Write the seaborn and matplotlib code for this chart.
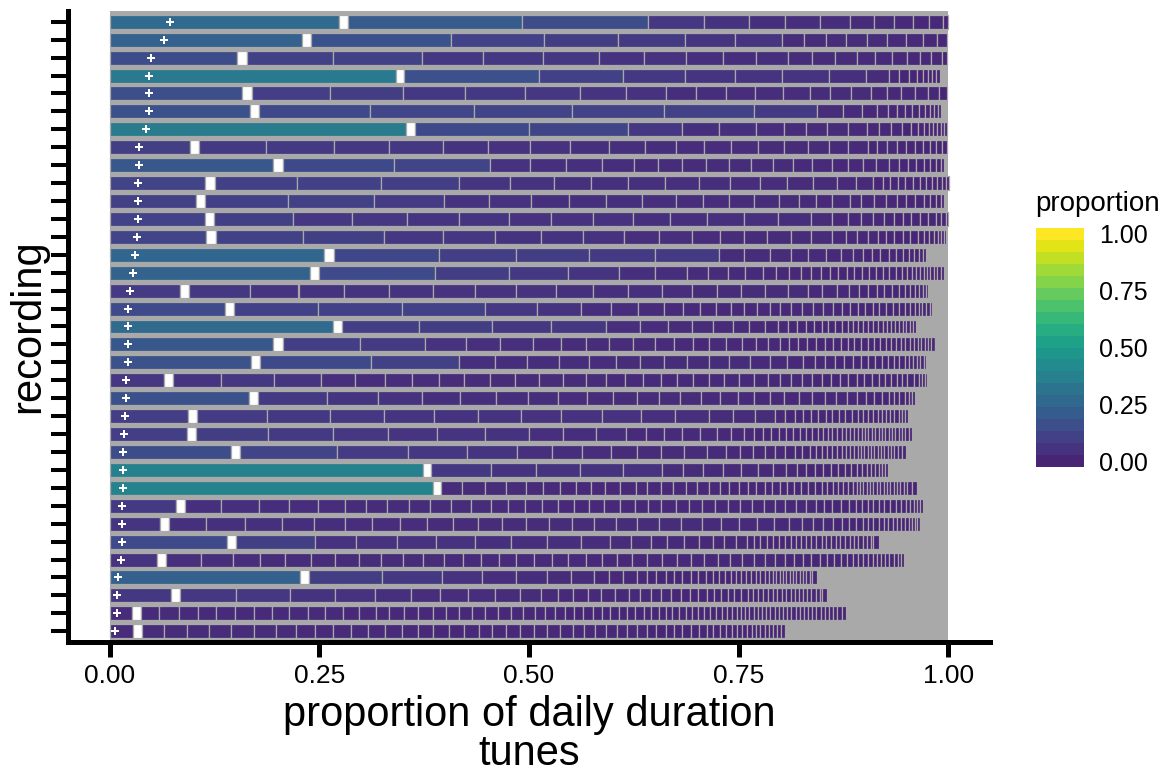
import numpy as np
import pandas as pd
import seaborn as sns
import matplotlib
matplotlib.use("Agg")
import matplotlib.pyplot as plt
from matplotlib.colors import ListedColormap, BoundaryNorm, Normalize
from matplotlib.cm import ScalarMappable

# share of the daily duration taken by each tune, one list per recording,
# top tune first
rec01 = [0.273, 0.208, 0.150, 0.067, 0.053, 0.044, 0.041, 0.036, 0.029, 0.024, 0.022, 0.019, 0.017, 0.006]
rec02 = [0.229, 0.167, 0.111, 0.088, 0.080, 0.060, 0.056, 0.026, 0.026, 0.024, 0.025, 0.024, 0.023, 0.020, 0.017, 0.012]
rec03 = [0.152, 0.103, 0.106, 0.073, 0.072, 0.067, 0.053, 0.050, 0.045, 0.039, 0.038, 0.029, 0.027, 0.026, 0.022,
         0.020, 0.018, 0.016, 0.013, 0.013, 0.006]
rec04 = [0.341, 0.161, 0.100, 0.074, 0.060, 0.056, 0.056, 0.044, 0.028, 0.012, 0.011, 0.010, 0.007, 0.006, 0.005,
         0.005, 0.004]
rec05 = [0.158, 0.093, 0.088, 0.074, 0.071, 0.066, 0.055, 0.047, 0.036, 0.036, 0.035, 0.033, 0.032, 0.024, 0.025,
         0.024, 0.019, 0.017, 0.016, 0.016, 0.013, 0.010]
rec06 = [0.167, 0.132, 0.124, 0.117, 0.110, 0.107, 0.076, 0.031, 0.022, 0.018, 0.013, 0.011, 0.010, 0.008, 0.008,
         0.007, 0.006, 0.005, 0.005, 0.004]
rec07 = [0.353, 0.136, 0.118, 0.064, 0.045, 0.044, 0.033, 0.026, 0.026, 0.024, 0.023, 0.015, 0.014, 0.013, 0.011,
         0.008, 0.007, 0.006, 0.005, 0.005, 0.004, 0.004, 0.004]
rec08 = [0.095, 0.080, 0.081, 0.066, 0.064, 0.054, 0.050, 0.048, 0.046, 0.043, 0.037, 0.034, 0.032, 0.032, 0.031,
         0.029, 0.025, 0.023, 0.023, 0.011, 0.012, 0.012, 0.011, 0.010, 0.010, 0.008, 0.008, 0.007, 0.006]
rec09 = [0.195, 0.133, 0.115, 0.047, 0.043, 0.043, 0.038, 0.029, 0.029, 0.028, 0.028, 0.026, 0.026, 0.024, 0.023,
         0.023, 0.019, 0.018, 0.016, 0.015, 0.012, 0.011, 0.010, 0.009, 0.007, 0.007, 0.006, 0.004]
rec10 = [0.114, 0.098, 0.101, 0.093, 0.060, 0.053, 0.044, 0.044, 0.044, 0.041, 0.037, 0.035, 0.033, 0.031, 0.028,
         0.023, 0.021, 0.011, 0.009, 0.009, 0.009, 0.009, 0.008, 0.008, 0.007, 0.006, 0.006, 0.005, 0.003]
rec11 = [0.103, 0.098, 0.103, 0.084, 0.053, 0.050, 0.046, 0.044, 0.043, 0.040, 0.032, 0.032, 0.030, 0.029, 0.024,
         0.021, 0.019, 0.021, 0.013, 0.016, 0.014, 0.013, 0.011, 0.011, 0.010, 0.008, 0.007, 0.006, 0.003]
rec12 = [0.113, 0.095, 0.070, 0.066, 0.062, 0.059, 0.050, 0.050, 0.048, 0.044, 0.044, 0.044, 0.041, 0.039, 0.026,
         0.018, 0.016, 0.015, 0.013, 0.011, 0.011, 0.010, 0.010, 0.010, 0.009, 0.007, 0.006, 0.002]
rec13 = [0.115, 0.104, 0.097, 0.070, 0.063, 0.054, 0.051, 0.048, 0.042, 0.040, 0.033, 0.029, 0.027, 0.028, 0.024,
         0.026, 0.016, 0.013, 0.013, 0.012, 0.010, 0.010, 0.010, 0.009, 0.009, 0.007, 0.006, 0.006, 0.005, 0.004,
         0.003, 0.003]
rec14 = [0.256, 0.126, 0.091, 0.088, 0.078, 0.077, 0.030, 0.031, 0.024, 0.021, 0.021, 0.018, 0.014, 0.012, 0.011,
         0.010, 0.010, 0.009, 0.008, 0.007, 0.006, 0.006, 0.005, 0.004]
rec15 = [0.239, 0.138, 0.088, 0.071, 0.060, 0.043, 0.039, 0.024, 0.024, 0.021, 0.021, 0.016, 0.015, 0.014, 0.012,
         0.012, 0.011, 0.010, 0.010, 0.009, 0.009, 0.009, 0.008, 0.008, 0.008, 0.008, 0.007, 0.006, 0.006, 0.005,
         0.005, 0.004, 0.004, 0.004, 0.004, 0.004, 0.005, 0.003]
rec16 = [0.084, 0.073, 0.058, 0.054, 0.054, 0.053, 0.050, 0.048, 0.048, 0.044, 0.042, 0.041, 0.035, 0.030, 0.029,
         0.028, 0.028, 0.024, 0.017, 0.017, 0.015, 0.012, 0.011, 0.010, 0.009, 0.009, 0.008, 0.007, 0.006, 0.006,
         0.005, 0.005, 0.004, 0.002]
rec17 = [0.137, 0.100, 0.101, 0.098, 0.063, 0.052, 0.036, 0.032, 0.031, 0.023, 0.020, 0.019, 0.018, 0.016, 0.015,
         0.015, 0.013, 0.013, 0.013, 0.013, 0.012, 0.012, 0.010, 0.010, 0.009, 0.009, 0.009, 0.008, 0.008, 0.008,
         0.007, 0.007, 0.006, 0.006, 0.005, 0.004, 0.005, 0.004, 0.003]
rec18 = [0.266, 0.092, 0.087, 0.070, 0.066, 0.041, 0.033, 0.028, 0.026, 0.023, 0.020, 0.019, 0.015, 0.012, 0.011,
         0.010, 0.010, 0.009, 0.008, 0.008, 0.008, 0.007, 0.007, 0.006, 0.006, 0.006, 0.005, 0.006, 0.006, 0.005,
         0.005, 0.005, 0.005, 0.004, 0.004, 0.004, 0.004, 0.004]
rec19 = [0.195, 0.092, 0.078, 0.049, 0.040, 0.040, 0.033, 0.030, 0.028, 0.028, 0.026, 0.023, 0.023, 0.019, 0.020,
         0.019, 0.017, 0.014, 0.014, 0.011, 0.011, 0.011, 0.011, 0.010, 0.010, 0.009, 0.008, 0.008, 0.008, 0.008,
         0.008, 0.007, 0.007, 0.006, 0.006, 0.006, 0.005, 0.005, 0.005, 0.005, 0.004, 0.004, 0.004, 0.004, 0.004,
         0.002]
rec20 = [0.168, 0.133, 0.104, 0.043, 0.039, 0.038, 0.036, 0.032, 0.029, 0.028, 0.028, 0.026, 0.024, 0.025, 0.023,
         0.021, 0.019, 0.014, 0.012, 0.012, 0.011, 0.010, 0.010, 0.009, 0.008, 0.008, 0.007, 0.007, 0.007, 0.006,
         0.005, 0.005, 0.005, 0.004, 0.004, 0.003]
rec21 = [0.064, 0.058, 0.063, 0.056, 0.041, 0.035, 0.033, 0.032, 0.030, 0.031, 0.029, 0.029, 0.029, 0.027, 0.024,
         0.023, 0.021, 0.021, 0.019, 0.020, 0.019, 0.018, 0.018, 0.017, 0.017, 0.015, 0.013, 0.013, 0.012, 0.011,
         0.011, 0.011, 0.010, 0.010, 0.009, 0.009, 0.008, 0.008, 0.007, 0.007, 0.006, 0.006, 0.008, 0.006, 0.004,
         0.004, 0.002]
rec22 = [0.166, 0.082, 0.061, 0.052, 0.046, 0.043, 0.038, 0.036, 0.034, 0.031, 0.029, 0.026, 0.025, 0.025, 0.023,
         0.021, 0.020, 0.018, 0.017, 0.018, 0.016, 0.015, 0.013, 0.013, 0.012, 0.011, 0.010, 0.009, 0.008, 0.007,
         0.006, 0.006, 0.005, 0.004, 0.003]
rec23 = [0.093, 0.084, 0.074, 0.065, 0.060, 0.052, 0.051, 0.048, 0.049, 0.047, 0.040, 0.041, 0.028, 0.027, 0.024,
         0.012, 0.011, 0.010, 0.009, 0.009, 0.009, 0.008, 0.008, 0.007, 0.008, 0.007, 0.006, 0.006, 0.006, 0.006,
         0.005, 0.005, 0.005, 0.005, 0.005, 0.004, 0.004, 0.003]
rec24 = [0.092, 0.086, 0.077, 0.066, 0.058, 0.057, 0.053, 0.041, 0.039, 0.036, 0.023, 0.022, 0.022, 0.021, 0.020,
         0.017, 0.015, 0.012, 0.011, 0.010, 0.009, 0.009, 0.008, 0.008, 0.008, 0.007, 0.007, 0.006, 0.006, 0.005,
         0.006, 0.005, 0.005, 0.005, 0.005, 0.005, 0.004, 0.004, 0.004, 0.004, 0.004, 0.004, 0.004, 0.004, 0.004,
         0.004, 0.004, 0.004, 0.004, 0.004, 0.004, 0.004]
rec25 = [0.145, 0.116, 0.085, 0.070, 0.060, 0.041, 0.036, 0.035, 0.031, 0.028, 0.028, 0.027, 0.023, 0.017, 0.015,
         0.014, 0.013, 0.012, 0.011, 0.009, 0.009, 0.008, 0.007, 0.006, 0.006, 0.006, 0.005, 0.005, 0.005, 0.005,
         0.004, 0.004, 0.004, 0.004, 0.004, 0.004, 0.004, 0.004, 0.004, 0.004, 0.004, 0.004, 0.004, 0.005, 0.005]
rec26 = [0.373, 0.072, 0.053, 0.053, 0.051, 0.047, 0.025, 0.024, 0.023, 0.022, 0.020, 0.018, 0.016, 0.013, 0.011,
         0.010, 0.010, 0.009, 0.009, 0.008, 0.007, 0.007, 0.006, 0.006, 0.005, 0.005, 0.004, 0.004, 0.004, 0.003]
rec27 = [0.385, 0.025, 0.028, 0.024, 0.024, 0.021, 0.020, 0.019, 0.018, 0.017, 0.018, 0.019, 0.013, 0.016, 0.015,
         0.015, 0.014, 0.014, 0.013, 0.011, 0.011, 0.011, 0.010, 0.010, 0.009, 0.009, 0.009, 0.008, 0.009, 0.008,
         0.008, 0.008, 0.007, 0.007, 0.006, 0.006, 0.005, 0.006, 0.005, 0.004, 0.004, 0.004, 0.004, 0.004, 0.004,
         0.004, 0.004, 0.004, 0.004, 0.004, 0.004, 0.004, 0.004, 0.004, 0.006, 0.006]
rec28 = [0.079, 0.044, 0.045, 0.036, 0.034, 0.032, 0.026, 0.025, 0.026, 0.025, 0.025, 0.024, 0.024, 0.020, 0.020,
         0.020, 0.020, 0.019, 0.018, 0.018, 0.018, 0.018, 0.016, 0.016, 0.017, 0.016, 0.015, 0.016, 0.016, 0.014,
         0.014, 0.014, 0.013, 0.013, 0.012, 0.012, 0.012, 0.010, 0.010, 0.010, 0.010, 0.008, 0.007, 0.007, 0.007,
         0.007, 0.006, 0.007, 0.007, 0.006, 0.006, 0.005, 0.004, 0.004, 0.004, 0.003]
rec29 = [0.060, 0.045, 0.046, 0.044, 0.039, 0.036, 0.033, 0.033, 0.032, 0.031, 0.030, 0.029, 0.029, 0.027, 0.027,
         0.026, 0.027, 0.025, 0.026, 0.026, 0.025, 0.023, 0.022, 0.021, 0.020, 0.018, 0.016, 0.013, 0.012, 0.012,
         0.010, 0.009, 0.008, 0.008, 0.007, 0.006, 0.006, 0.006, 0.005, 0.006, 0.005, 0.005, 0.005, 0.004, 0.004,
         0.003, 0.003, 0.003, 0.002]
rec30 = [0.140, 0.095, 0.049, 0.048, 0.047, 0.047, 0.043, 0.042, 0.041, 0.035, 0.025, 0.024, 0.019, 0.020, 0.018,
         0.016, 0.014, 0.014, 0.013, 0.008, 0.008, 0.008, 0.007, 0.007, 0.007, 0.007, 0.007, 0.006, 0.006, 0.006,
         0.006, 0.006, 0.005, 0.006, 0.006, 0.005, 0.006, 0.006, 0.005, 0.005, 0.005, 0.005, 0.005, 0.003, 0.006]
rec31 = [0.056, 0.042, 0.038, 0.032, 0.030, 0.031, 0.029, 0.028, 0.027, 0.026, 0.024, 0.024, 0.023, 0.022, 0.021,
         0.021, 0.021, 0.021, 0.020, 0.021, 0.019, 0.018, 0.018, 0.018, 0.018, 0.017, 0.017, 0.016, 0.016, 0.015,
         0.014, 0.014, 0.013, 0.012, 0.012, 0.011, 0.011, 0.010, 0.010, 0.009, 0.008, 0.008, 0.007, 0.007, 0.006,
         0.006, 0.006, 0.006, 0.005, 0.005, 0.005, 0.005, 0.005, 0.005, 0.004, 0.003]
rec32 = [0.227, 0.087, 0.071, 0.048, 0.041, 0.036, 0.029, 0.028, 0.018, 0.016, 0.017, 0.012, 0.011, 0.011, 0.010,
         0.010, 0.010, 0.009, 0.009, 0.008, 0.008, 0.007, 0.007, 0.006, 0.006, 0.006, 0.006, 0.006, 0.005, 0.005,
         0.005, 0.005, 0.004, 0.004, 0.004, 0.004, 0.004, 0.004, 0.004, 0.004, 0.004, 0.004, 0.004, 0.003, 0.006]
rec33 = [0.073, 0.067, 0.064, 0.053, 0.048, 0.043, 0.035, 0.033, 0.033, 0.029, 0.025, 0.021, 0.018, 0.017, 0.016,
         0.017, 0.016, 0.014, 0.013, 0.012, 0.012, 0.011, 0.011, 0.010, 0.010, 0.009, 0.008, 0.008, 0.008, 0.008,
         0.008, 0.006, 0.006, 0.006, 0.006, 0.006, 0.005, 0.006, 0.005, 0.005, 0.005, 0.005, 0.005, 0.005, 0.005,
         0.005, 0.005, 0.003, 0.006]
rec34 = [0.026, 0.021, 0.024, 0.023, 0.022, 0.022, 0.023, 0.021, 0.021, 0.022, 0.021, 0.021, 0.019, 0.020, 0.016,
         0.018, 0.017, 0.017, 0.016, 0.016, 0.015, 0.016, 0.015, 0.015, 0.015, 0.014, 0.012, 0.012, 0.012, 0.011,
         0.011, 0.011, 0.011, 0.010, 0.010, 0.010, 0.010, 0.010, 0.009, 0.009, 0.008, 0.008, 0.008, 0.008, 0.008,
         0.007, 0.007, 0.007, 0.007, 0.007, 0.006, 0.006, 0.006, 0.005, 0.005, 0.005, 0.005, 0.005, 0.005, 0.005,
         0.005, 0.005, 0.005, 0.005, 0.005, 0.005, 0.005, 0.005, 0.005, 0.005, 0.005, 0.005, 0.005, 0.005, 0.005,
         0.005, 0.005, 0.005, 0.005]
rec35 = [0.027, 0.026, 0.028, 0.026, 0.027, 0.027, 0.026, 0.024, 0.023, 0.021, 0.022, 0.020, 0.020, 0.020, 0.020,
         0.018, 0.018, 0.018, 0.018, 0.016, 0.017, 0.016, 0.017, 0.016, 0.015, 0.015, 0.014, 0.013, 0.013, 0.013,
         0.012, 0.012, 0.012, 0.011, 0.011, 0.010, 0.010, 0.010, 0.010, 0.009, 0.008, 0.008, 0.007, 0.007, 0.006,
         0.006, 0.006, 0.006, 0.005, 0.005, 0.005, 0.005, 0.005, 0.005, 0.005, 0.004]

recordings = [rec01, rec02, rec03, rec04, rec05, rec06, rec07, rec08, rec09, rec10, rec11, rec12,
              rec13, rec14, rec15, rec16, rec17, rec18, rec19, rec20, rec21, rec22, rec23, rec24,
              rec25, rec26, rec27, rec28, rec29, rec30, rec31, rec32, rec33, rec34, rec35]

# white block drawn right after the top tune of each recording
gap_share = [0.011, 0.011, 0.011, 0.010, 0.011, 0.011, 0.011, 0.011, 0.011, 0.011, 0.011, 0.011,
             0.011, 0.011, 0.011, 0.010, 0.011, 0.011, 0.011, 0.011, 0.011, 0.011, 0.011, 0.011,
             0.010, 0.010, 0.010, 0.010, 0.010, 0.010, 0.011, 0.011, 0.011, 0.011, 0.011]

# white "+" marker on each row
mark_pos = [0.072, 0.064, 0.049, 0.047, 0.047, 0.047, 0.043, 0.035, 0.035, 0.034, 0.034, 0.034,
            0.032, 0.030, 0.027, 0.024, 0.022, 0.021, 0.021, 0.021, 0.019, 0.019, 0.018, 0.017,
            0.016, 0.016, 0.016, 0.015, 0.014, 0.014, 0.013, 0.010, 0.009, 0.008, 0.006]

tick_vals = [0.0, 0.25, 0.5, 0.75, 1.0]
tick_text = ["0.00", "0.25", "0.50", "0.75", "1.00"]

# build one long table of stacked segments
rows = []
for i, shares in enumerate(recordings, start=1):
    seq = [(shares[0], "tune"), (gap_share[i - 1], "gap")] + [(s, "tune") for s in shares[1:]]
    left = 0.0
    for s, kind in seq:
        rows.append({"recording": i, "share": s, "kind": kind, "left": left})
        left += s
seg = pd.DataFrame(rows)
marks = pd.DataFrame({"recording": np.arange(1, len(mark_pos) + 1), "pos": mark_pos})

sns.set_theme(style="white")
plt.rcParams["font.family"] = ["Liberation Sans", "DejaVu Sans"]
plt.rcParams["text.color"] = "black"
plt.rcParams["axes.labelcolor"] = "black"
plt.rcParams["xtick.color"] = "black"
plt.rcParams["ytick.color"] = "black"

# viridis with the darkest tail dropped, the way the reference colours look
base = plt.get_cmap("viridis")
fill_cmap = ListedColormap(base(np.linspace(0.1, 1.0, 256)))
fill_norm = Normalize(0, 1)

fig = plt.figure(figsize=(11.65, 7.77), dpi=100)
W, H = 1165, 777
ax = fig.add_axes([68 / W, 1 - 642 / H, (990 - 68) / W, (642 - 11) / H])

ax.axvspan(0, 1, color="#a9a9a9", lw=0, zorder=0)

colors = [fill_cmap(fill_norm(s)) if k == "tune" else "white" for s, k in zip(seg["share"], seg["kind"])]
ax.barh(seg["recording"], seg["share"], left=seg["left"], height=0.78, color=colors,
        edgecolor="#a9a9a9", linewidth=0.9, zorder=2)

sns.scatterplot(data=marks, x="pos", y="recording", marker="P", s=26, color="white",
                linewidth=0, ax=ax, zorder=3)

ax.set_xlim(-0.05, 1.05)
ax.set_ylim(len(recordings) + 0.6, 0.4)
ax.set_xticks(tick_vals)
ax.set_xticklabels(tick_text)
ax.set_yticks(np.arange(1, len(recordings) + 1))
ax.set_yticklabels([])
ax.tick_params(axis="x", length=11, width=3.6, color="black", labelcolor="black", labelsize=19,
               pad=5, bottom=True)
ax.tick_params(axis="y", length=12, width=2.9, color="black", left=True)
for side in ["top", "right"]:
    ax.spines[side].set_visible(False)
for side in ["left", "bottom"]:
    ax.spines[side].set_linewidth(3.6)
    ax.spines[side].set_color("black")
ax.set_xlabel("proportion of daily duration\ntunes", fontsize=30, linespacing=0.95, labelpad=5,
              color="black")
ax.set_ylabel("recording", fontsize=30, labelpad=-1, color="black")

# colour bar: 20 bands, ticks at the centres of the end bands
cax = fig.add_axes([1036 / W, 1 - 467 / H, 48 / W, 239 / H])
centres = np.linspace(0, 1, 20)
bounds = np.linspace(-1 / 38, 1 + 1 / 38, 21)
band_cmap = ListedColormap(fill_cmap(centres))
cb = fig.colorbar(ScalarMappable(norm=BoundaryNorm(bounds, 20), cmap=band_cmap), cax=cax,
                  ticks=tick_vals)
cb.outline.set_visible(False)
cb.set_ticklabels(tick_text)
cb.minorticks_off()
cax.yaxis.set_ticks_position("both")
cax.tick_params(direction="in", length=6.5, width=0.9, color="white", labelcolor="black",
                labelsize=18, labelleft=False, labelright=True, pad=11)
fig.text(1035 / W, 1 - 204 / H, "proportion", fontsize=20, ha="left", va="center", color="black")

fig.savefig("out.png", dpi=100)
